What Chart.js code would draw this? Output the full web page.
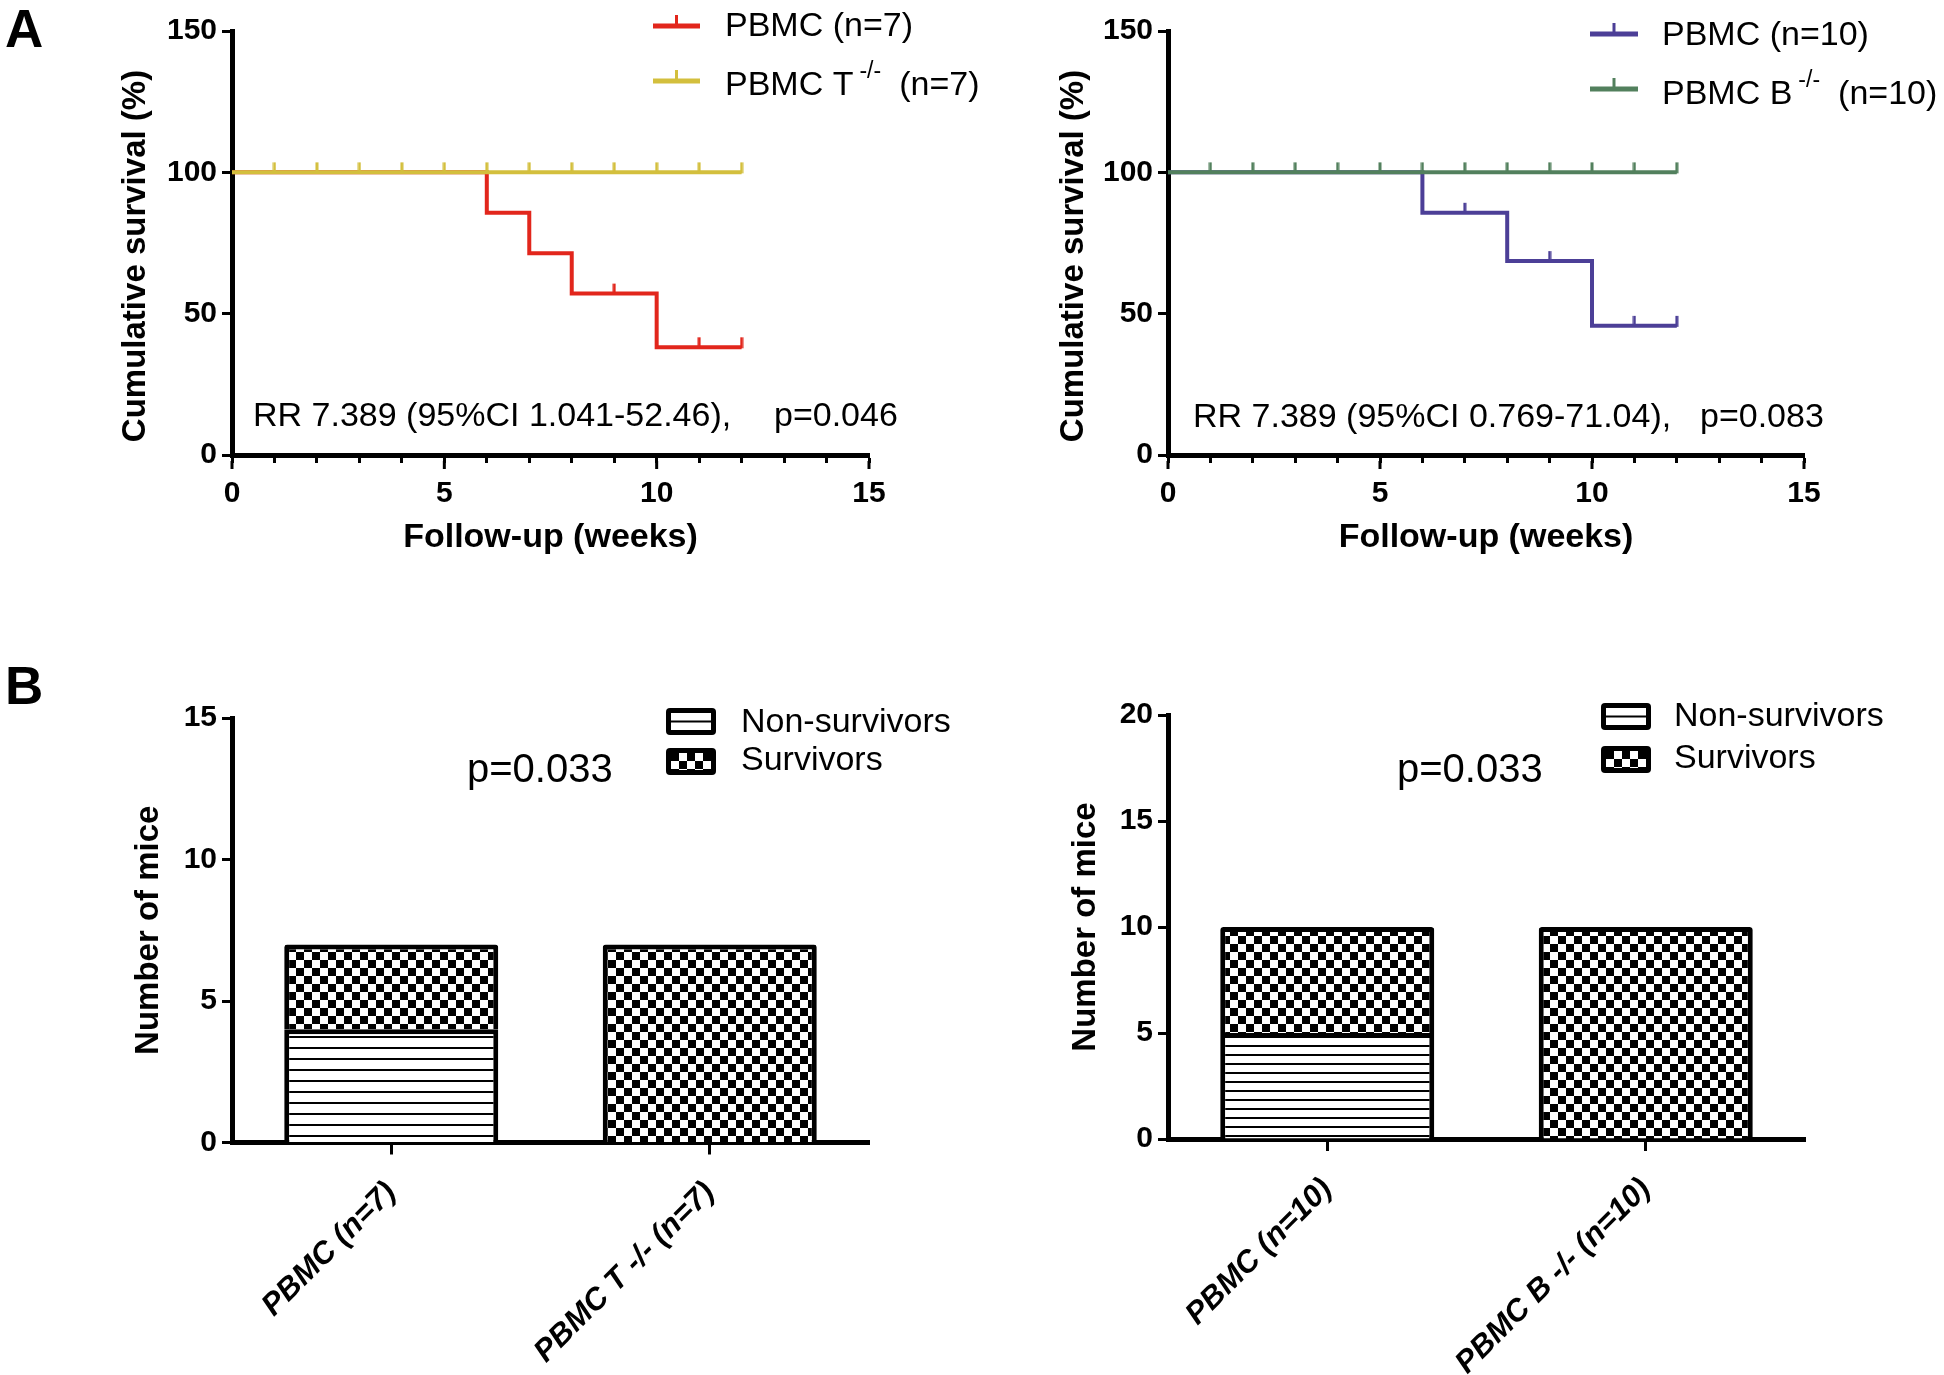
<!DOCTYPE html>
<html><head><meta charset="utf-8">
<script src="https://cdn.jsdelivr.net/npm/chart.js@4"></script>
<style>
html,body{margin:0;padding:0;background:#fff;}
body{width:1944px;height:1375px;position:relative;overflow:hidden;}
canvas{position:absolute;}
</style></head><body>
<canvas id="a1" width="990" height="600" style="left:0px;top:0px"></canvas>
<canvas id="a2" width="954" height="600" style="left:990px;top:0px"></canvas>
<canvas id="b1" width="990" height="735" style="left:0px;top:640px"></canvas>
<canvas id="b2" width="954" height="735" style="left:990px;top:640px"></canvas>
<script>
// ---------------- DATA ----------------
// Kaplan-Meier: event times (weeks) and survival (%) after each step
const kmTcellTimes = [0, 12];
const kmTcellSurv = [100, 100];
const kmTcellCensor = [1, 2, 3, 4, 5, 6, 7, 8, 9, 10, 11, 12];

const kmPbmc7Times = [0, 6, 7, 8, 10, 12];
const kmPbmc7Surv = [100, 85.7, 71.4, 57.1, 38.1, 38.1];
const kmPbmc7Censor = [9, 11, 12];

const kmPbmc10Times = [0, 6, 8, 10, 12];
const kmPbmc10Surv = [100, 85.7, 68.6, 45.7, 45.7];
const kmPbmc10Censor = [7, 9, 11, 12];

const kmBcellTimes = [0, 12];
const kmBcellSurv = [100, 100];
const kmBcellCensor = [1, 2, 3, 4, 5, 6, 7, 8, 9, 10, 11, 12];

const kmXTickLabels = [0, 5, 10, 15];
const kmYTicks = [0, 50, 100, 150];

// Bar charts: number of mice
const barCatsT = ['PBMC (n=7)', 'PBMC T -/- (n=7)'];
const nonSurvT = [4, 0];
const survT = [3, 7];
const barCatsB = ['PBMC (n=10)', 'PBMC B -/- (n=10)'];
const nonSurvB = [5, 0];
const survB = [5, 10];
const barYTicksT = [0, 5, 10, 15];
const barYTicksB = [0, 5, 10, 15, 20];

// ---------------- STYLE ----------------
const FONT = "'Liberation Sans', Arial, sans-serif";
Chart.defaults.font.family = FONT;
Chart.defaults.color = '#000';
const RED = '#e2261c', YEL = '#d3bf3d', PUR = '#4c3f97', GRN = '#52805d';

function stepVal(times, surv, t) {
  let v = surv[0];
  for (let i = 0; i < times.length; i++) if (times[i] <= t) v = surv[i];
  return v;
}
function censorImg(color) {
  const c = document.createElement('canvas');
  c.width = 4; c.height = 22;
  const g = c.getContext('2d');
  g.fillStyle = color;
  g.fillRect(0.5, 1, 3, 11);
  return c;
}
function txt(ctx, s, x, y, size, o) {
  o = o || {};
  ctx.save();
  ctx.font = (o.style || '') + ' ' + (o.weight || '') + ' ' + size + 'px ' + FONT;
  ctx.fillStyle = '#000';
  ctx.textAlign = o.align || 'left';
  ctx.textBaseline = o.baseline || 'middle';
  if (o.rotate) { ctx.translate(x, y); ctx.rotate(o.rotate); x = 0; y = 0; }
  ctx.fillText(s, x, y);
  const w = ctx.measureText(s).width;
  ctx.restore();
  return w;
}
function checkerPattern(cell) {
  const c = document.createElement('canvas');
  c.width = c.height = cell * 2;
  const g = c.getContext('2d');
  g.fillStyle = '#fff'; g.fillRect(0, 0, cell * 2, cell * 2);
  g.fillStyle = '#000'; g.fillRect(0, 0, cell, cell); g.fillRect(cell, cell, cell, cell);
  return g.createPattern(c, 'repeat');
}
function stripePattern(period, thick) {
  const c = document.createElement('canvas');
  c.width = 8; c.height = period;
  const g = c.getContext('2d');
  g.fillStyle = '#fff'; g.fillRect(0, 0, 8, period);
  g.fillStyle = '#000'; g.fillRect(0, 0, 8, thick);
  return g.createPattern(c, 'repeat');
}

function kmLegendItem(ctx, it) {
  ctx.save();
  ctx.strokeStyle = it.color; ctx.lineCap = 'butt';
  ctx.lineWidth = 5;
  ctx.beginPath(); ctx.moveTo(it.x0, it.ly); ctx.lineTo(it.x1, it.ly); ctx.stroke();
  ctx.lineWidth = 3;
  const mx = (it.x0 + it.x1) / 2;
  ctx.beginPath(); ctx.moveTo(mx, it.ly); ctx.lineTo(mx, it.ly - 11); ctx.stroke();
  ctx.restore();
  const w = txt(ctx, it.main, it.tx, it.ty, 34);
  if (it.sup) {
    const sx = it.tx + w + 6;
    const sw = txt(ctx, it.sup, sx, it.ty - 14, 23);
    txt(ctx, it.tail, sx + sw + 18, it.ty, 34);
  }
}

function makeKM(id, cfg) {
  const datasets = [];
  cfg.series.forEach(s => {
    datasets.push({
      type: 'line', order: s.order,
      data: s.times.map((t, i) => ({x: t, y: s.surv[i]})),
      borderColor: s.color, borderWidth: 4, stepped: 'before',
      pointRadius: 0, fill: false, borderCapStyle: 'butt', borderJoinStyle: 'miter'
    });
    datasets.push({
      type: 'line', order: s.order, showLine: false,
      data: s.censor.map(t => ({x: t, y: stepVal(s.times, s.surv, t)})),
      pointStyle: censorImg(s.color), pointRadius: 4, borderColor: s.color, backgroundColor: s.color
    });
  });
  const extras = {
    id: 'extras_' + id,
    afterDraw(chart) {
      const ctx = chart.ctx, xs = chart.scales.x, b = chart.chartArea.bottom;
      // longer major ticks
      ctx.save(); ctx.strokeStyle = '#000'; ctx.lineWidth = 3;
      kmXTickLabels.forEach(v => {
        const px = xs.getPixelForValue(v);
        ctx.beginPath(); ctx.moveTo(px, b + 6); ctx.lineTo(px, b + 14); ctx.stroke();
      });
      ctx.restore();
      txt(ctx, 'Cumulative survival (%)', cfg.yTitleX, cfg.yTitleY, 33,
          {weight: 'bold', align: 'center', rotate: -Math.PI / 2});
      cfg.legend.forEach(it => kmLegendItem(ctx, it));
      txt(ctx, cfg.rr, cfg.rrX, cfg.rrY, 34);
      txt(ctx, cfg.p, cfg.pX, cfg.rrY, 34);
      if (cfg.panel) txt(ctx, cfg.panel, 5, 47, 53, {weight: 'bold', baseline: 'alphabetic'});
    }
  };
  return new Chart(document.getElementById(id), {
    type: 'line',
    data: {datasets},
    options: {
      responsive: false, animation: false,
      layout: {padding: {left: 0, top: cfg.top, right: cfg.W - cfg.right, bottom: 0}},
      plugins: {legend: {display: false}, tooltip: {enabled: false}},
      scales: {
        x: {
          type: 'linear', min: 0, max: 15,
          afterFit: s => { s.height = cfg.H - cfg.bottom; },
          ticks: {stepSize: 1, autoSkip: false, maxRotation: 0, padding: 13,
                  font: {size: 30, weight: 'bold'},
                  callback: v => kmXTickLabels.includes(v) ? String(v) : ''},
          grid: {drawOnChartArea: false, drawTicks: true, tickLength: 8, tickWidth: 3, tickColor: '#000'},
          border: {display: true, color: '#000', width: 5},
          title: {display: true, text: 'Follow-up (weeks)', font: {size: 34, weight: 'bold'},
                  padding: {top: 0, bottom: 42}}
        },
        y: {
          min: 0, max: 150,
          afterFit: s => { s.width = cfg.left; },
          ticks: {stepSize: 50, padding: 5, font: {size: 30, weight: 'bold'},
                  callback: v => kmYTicks.includes(v) ? String(v) : ''},
          grid: {drawOnChartArea: false, drawTicks: true, tickLength: 10, tickWidth: 3, tickColor: '#000'},
          border: {display: true, color: '#000', width: 5},
          title: {display: false}
        }
      }
    },
    plugins: [extras]
  });
}

makeKM('a1', {
  W: 990, H: 600, left: 232, right: 869, top: 31, bottom: 455, yTitleX: 136, yTitleY: 256,
  series: [
    {times: kmTcellTimes, surv: kmTcellSurv, censor: kmTcellCensor, color: YEL, order: 0},
    {times: kmPbmc7Times, surv: kmPbmc7Surv, censor: kmPbmc7Censor, color: RED, order: 1}
  ],
  legend: [
    {x0: 653, x1: 700, ly: 26, color: RED, tx: 725, ty: 27, main: 'PBMC (n=7)'},
    {x0: 653, x1: 700, ly: 81, color: YEL, tx: 725, ty: 86, main: 'PBMC T', sup: '-/-', tail: '(n=7)'}
  ],
  rr: 'RR 7.389 (95%CI 1.041-52.46),', p: 'p=0.046', rrX: 253, pX: 774, rrY: 417,
  panel: 'A'
});
makeKM('a2', {
  W: 954, H: 600, left: 178, right: 814, top: 31, bottom: 455, yTitleX: 84, yTitleY: 256,
  series: [
    {times: kmBcellTimes, surv: kmBcellSurv, censor: kmBcellCensor, color: GRN, order: 0},
    {times: kmPbmc10Times, surv: kmPbmc10Surv, censor: kmPbmc10Censor, color: PUR, order: 1}
  ],
  legend: [
    {x0: 600, x1: 648, ly: 34, color: PUR, tx: 672, ty: 36, main: 'PBMC (n=10)'},
    {x0: 600, x1: 648, ly: 89, color: GRN, tx: 672, ty: 95, main: 'PBMC B', sup: '-/-', tail: '(n=10)'}
  ],
  rr: 'RR 7.389 (95%CI 0.769-71.04),', p: 'p=0.083', rrX: 203, pX: 710, rrY: 418
});

function makeBar(id, cfg) {
  const el = document.getElementById(id);
  const checker = checkerPattern(8);
  const stripes = stripePattern(cfg.stripe, 2);
  const extras = {
    id: 'extras_' + id,
    afterDraw(chart) {
      const ctx = chart.ctx;
      const L = cfg.leg;
      [[L.y1, stripes, true], [L.y2, checker, false]].forEach(([y, pat, isStripe]) => {
        ctx.save();
        ctx.fillStyle = '#000';
        ctx.beginPath(); ctx.roundRect(L.x, y, 50, 27, 4); ctx.fill();
        if (isStripe) {
          ctx.fillStyle = '#fff'; ctx.fillRect(L.x + 5, y + 5, 40, 17);
          ctx.fillStyle = '#000'; ctx.fillRect(L.x + 5, y + 12.5, 40, 2);
        } else {
          ctx.save(); ctx.translate(L.x + 5, y + 5);
          ctx.fillStyle = pat; ctx.fillRect(0, 0, 40, 17);
          ctx.restore();
        }
        ctx.restore();
      });
      txt(ctx, 'Non-survivors', L.tx, L.t1, 34);
      txt(ctx, 'Survivors', L.tx, L.t2, 34);
      txt(ctx, 'p=0.033', cfg.pX, cfg.pY, 40);
      if (cfg.panel) txt(ctx, cfg.panel, 5, 64, 53, {weight: 'bold', baseline: 'alphabetic'});
    }
  };
  return new Chart(el, {
    type: 'bar',
    data: {
      labels: cfg.cats,
      datasets: [
        {label: 'Non-survivors', data: cfg.non, backgroundColor: stripes, borderColor: '#000',
         borderWidth: 5, barPercentage: 0.672, categoryPercentage: 1},
        {label: 'Survivors', data: cfg.surv, backgroundColor: checker, borderColor: '#000',
         borderWidth: 5, barPercentage: 0.672, categoryPercentage: 1,
         borderRadius: {topLeft: 3, topRight: 3, bottomLeft: 0, bottomRight: 0}}
      ]
    },
    options: {
      responsive: false, animation: false,
      layout: {padding: {left: 0, top: cfg.top, right: cfg.W - cfg.right, bottom: 0}},
      plugins: {legend: {display: false}, tooltip: {enabled: false}},
      scales: {
        x: {
          stacked: true, offset: true,
          afterFit: s => { s.height = cfg.H - cfg.bottom; },
          ticks: {minRotation: 45, maxRotation: 45, padding: 20, autoSkip: false,
                  font: {size: 31, weight: 'bold', style: 'italic'}},
          grid: {offset: false, drawOnChartArea: false, drawTicks: true, tickLength: 12, tickWidth: 3, tickColor: '#000'},
          border: {display: true, color: '#000', width: 5}
        },
        y: {
          stacked: true, min: 0, max: cfg.ymax,
          afterFit: s => { s.width = cfg.left; },
          ticks: {stepSize: 5, padding: 5, font: {size: 30, weight: 'bold'},
                  callback: v => cfg.yTicks.includes(v) ? String(v) : ''},
          grid: {drawOnChartArea: false, drawTicks: true, tickLength: 10, tickWidth: 3, tickColor: '#000'},
          border: {display: true, color: '#000', width: 5},
          title: {display: true, text: 'Number of mice', font: {size: 33, weight: 'bold'},
                  padding: {top: cfg.yTitlePad, bottom: 0}}
        }
      }
    },
    plugins: [extras]
  });
}

makeBar('b1', {
  W: 990, H: 735, left: 232, right: 869, top: 78, bottom: 502.5, yTitlePad: 129,
  cats: barCatsT, non: nonSurvT, surv: survT, ymax: 15, yTicks: barYTicksT, stripe: 11,
  leg: {x: 666, y1: 68, y2: 108, tx: 741, t1: 83, t2: 121},
  pX: 467, pY: 131, panel: 'B'
});
makeBar('b2', {
  W: 954, H: 735, left: 178, right: 815, top: 75, bottom: 499, yTitlePad: 76,
  cats: barCatsB, non: nonSurvB, surv: survB, ymax: 20, yTicks: barYTicksB, stripe: 9,
  leg: {x: 611, y1: 63, y2: 106, tx: 684, t1: 77, t2: 119},
  pX: 407, pY: 131
});
</script>
</body></html>
